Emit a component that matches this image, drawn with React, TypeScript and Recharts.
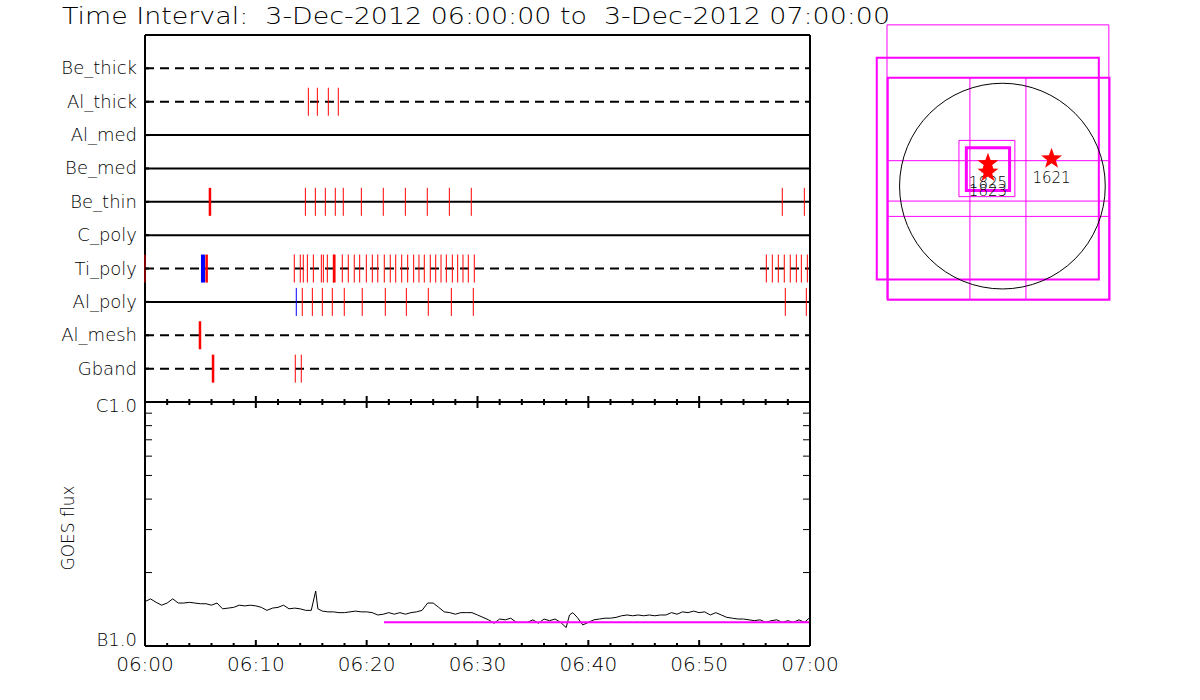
import React from "react";
import {
  ScatterChart,
  Scatter,
  ComposedChart,
  Line,
  XAxis,
  YAxis,
  ReferenceLine,
  ReferenceArea,
  ReferenceDot,
} from "recharts";

const FONT = "'DejaVu Sans', sans-serif";
const RED = "#ff0000";
const BLUE = "#0000ff";
const MAGENTA = "#ff00ff";
const AX = { stroke: "#000", strokeWidth: 2 };

// ---- shared time axis (minutes after 06:00) ----
const timeTicks = [0, 2, 4, 6, 8, 10, 12, 14, 16, 18, 20, 22, 24, 26, 28, 30, 32, 34, 36, 38, 40, 42, 44, 46, 48, 50, 52, 54, 56, 58, 60];
const timeLabels: Record<number, string> = { 0: "06:00", 10: "06:10", 20: "06:20", 30: "06:30", 40: "06:40", 50: "06:50", 60: "07:00" };

// ---- filter rows (top to bottom) ----
const rowNames = ["Be_thick", "Al_thick", "Al_med", "Be_med", "Be_thin", "C_poly", "Ti_poly", "Al_poly", "Al_mesh", "Gband"];
const rowDashed = [true, true, false, false, false, false, true, false, true, true];
const rowTicks = [1, 2, 3, 4, 5, 6, 7, 8, 9, 10];

// ---- filter events, minutes after 06:00 ----
const alThickRed = [14.74, 15.55, 16.54, 17.44];
const beThinRedBold = [5.86];
const beThinRed = [14.47, 15.37, 16.27, 17.17, 17.89, 19.52, 21.5, 23.49, 25.47, 27.46, 29.44, 57.5, 59.49];
const tiPolyBlueBold = [5.23];
const tiPolyRedBold = [5.56, 17.08];
const tiPolyRed = [
  0, 13.47, 14.01, 14.28, 14.65, 15.19, 15.91, 16.09, 16.45, 16.99, 17.8, 18.34, 18.88, 19.37, 19.97,
  20.51, 21.0, 21.59, 22.13, 22.62, 23.16, 23.7, 24.24, 24.72, 25.2, 25.74, 26.23, 26.71, 27.19, 27.73,
  28.21, 28.69, 29.17, 29.71, 56.06, 56.6, 57.14, 57.68, 58.22, 58.77, 59.22, 59.76,
];
const alPolyBlue = [13.65];
const alPolyRed = [14.19, 15.1, 16.0, 16.9, 17.98, 19.6, 21.68, 23.58, 25.56, 27.64, 29.62, 57.77, 59.67];
const alMeshRedBold = [4.96];
const gbandRedBold = [6.14];
const gbandRed = [13.56, 14.1];

// ---- GOES flux, units of 1e-7 W/m^2 ----
const goesTimes = [
  0, 0.5, 1, 1.5, 2, 2.5, 3, 3.5, 4, 4.5, 5, 5.5, 6, 6.5, 7, 7.5, 8, 8.5, 9, 9.5,
  10, 10.5, 11, 11.5, 12, 12.5, 13, 13.5, 14, 14.5, 15, 15.4, 15.6, 16, 16.5, 17, 17.5, 18, 18.5, 19, 19.5,
  20, 20.5, 21, 21.5, 22, 22.5, 23, 23.5, 24, 24.5, 25, 25.5, 26, 26.5, 27, 27.5, 28, 28.5, 29, 29.5,
  30, 30.5, 31, 31.5, 32, 32.5, 33, 33.5, 34, 34.5, 35, 35.5, 36, 36.5, 37, 37.5, 38, 38.3, 38.6, 39, 39.5,
  40, 40.5, 41, 41.5, 42, 42.5, 43, 43.5, 44, 44.5, 45, 45.5, 46, 46.5, 47, 47.5, 48, 48.5, 49, 49.5,
  50, 50.5, 51, 51.5, 52, 52.5, 53, 53.5, 54, 54.5, 55, 55.5, 56, 56.5, 57, 57.5, 58, 58.5, 59, 59.5, 60,
];
const goesFlux = [
  1.52, 1.56, 1.51, 1.47, 1.5, 1.56, 1.5, 1.5, 1.51, 1.5, 1.49, 1.49, 1.47, 1.5, 1.42, 1.43, 1.44, 1.47, 1.46, 1.47,
  1.46, 1.44, 1.4, 1.43, 1.44, 1.47, 1.42, 1.43, 1.42, 1.4, 1.4, 1.68, 1.42, 1.39, 1.38, 1.38, 1.37, 1.37, 1.38, 1.39, 1.38,
  1.38, 1.37, 1.34, 1.35, 1.37, 1.35, 1.37, 1.35, 1.37, 1.38, 1.4, 1.5, 1.5, 1.44, 1.38, 1.37, 1.35, 1.37, 1.37, 1.37,
  1.34, 1.31, 1.28, 1.24, 1.29, 1.28, 1.3, 1.25, 1.25, 1.25, 1.28, 1.24, 1.29, 1.27, 1.29, 1.25, 1.19, 1.34, 1.37, 1.31, 1.22,
  1.25, 1.28, 1.29, 1.3, 1.3, 1.31, 1.33, 1.34, 1.33, 1.34, 1.33, 1.34, 1.33, 1.34, 1.34, 1.37, 1.35, 1.38, 1.37, 1.39,
  1.37, 1.38, 1.34, 1.37, 1.34, 1.31, 1.3, 1.29, 1.29, 1.28, 1.27, 1.28, 1.25, 1.27, 1.28, 1.25, 1.27, 1.25, 1.28, 1.25, 1.31,
];
const bgTimes = [21.56, 60];
const bgFlux = [1.25, 1.25];
const fluxTicks = [1, 2, 3, 4, 5, 6, 7, 8, 9, 10];
const fluxLabels: Record<number, string> = { 1: "B1.0", 10: "C1.0" };

// ---- solar map, arcsec ----
const SUN_R = 975;
const mapX: [number, number] = [-1350, 1200];
const mapY: [number, number] = [-1250, 1650];
const MAP_W = 269;
const MAP_H = 306;
// x1, x2, y1, y2, stroke width
const fovBoxes: [number, number, number, number, number][] = [
  [-1094, 1009, -1073, 1528, 1],
  [-1191, 914, -886, 1216, 2],
  [-1087, 1015, -1076, 1027, 2],
  [-412, 118, -100, 433, 1],
  [-342, 68, -41, 364, 3],
];
const gridX = [-308, 223];
const gridY = [241, -142, -287];
const regionNums = ["1825", "1823", "1621"];
const regionX = [-137, -137, 466];
const regionY = [212, 133, 259];

type Ev = { t: number; row: number; color: string; w: number };
const mk = (times: number[], row: number, color: string, w: number): Ev[] =>
  times.map((t) => ({ t, row, color, w }));

const events: Ev[] = [
  ...mk(alThickRed, 2, RED, 1),
  ...mk(beThinRed, 5, RED, 1),
  ...mk(beThinRedBold, 5, RED, 2.5),
  ...mk(tiPolyRed, 7, RED, 1),
  ...mk(tiPolyRedBold, 7, RED, 2.5),
  ...mk(tiPolyBlueBold, 7, BLUE, 4),
  ...mk(alPolyRed, 8, RED, 1),
  ...mk(alPolyBlue, 8, BLUE, 1),
  ...mk(alMeshRedBold, 9, RED, 2.5),
  ...mk(gbandRed, 10, RED, 1),
  ...mk(gbandRedBold, 10, RED, 2.5),
];

const goes = goesTimes.map((t, i) => ({ t, flux: goesFlux[i] }));
const bg = bgTimes.map((t, i) => ({ t, flux: bgFlux[i] }));
const regions = regionNums.map((n, i) => ({ x: regionX[i], y: regionY[i], n }));

// ---- tick renderers ----
const timeTick = (dir: number, labels: boolean) => (p: any) => {
  const v = p.payload.value;
  const major = v % 10 === 0;
  return (
    <g>
      <line x1={p.x} x2={p.x} y1={p.y} y2={p.y + dir * (major ? 6 : 3)} stroke="#000" strokeWidth={2} />
      {labels && major && (
        <text x={p.x} y={p.y + 25} textAnchor="middle" fontSize={20} fontFamily={FONT} fontWeight={200} fill="#000">
          {timeLabels[v]}
        </text>
      )}
    </g>
  );
};

const RowTick = (p: any) => (
  <g>
    <line x1={p.x} x2={p.x + 4} y1={p.y} y2={p.y} stroke="#000" strokeWidth={2} />
    <text x={p.x - 8} y={p.y + 6} textAnchor="end" fontSize={18} fontFamily={FONT} fontWeight={200} fill="#000">
      {rowNames[p.payload.value - 1]}
    </text>
  </g>
);

const fluxTick = (dir: number, labels: boolean) => (p: any) => {
  const v = p.payload.value;
  const edge = v === 1 || v === 10;
  return (
    <g>
      {!edge && <line x1={p.x} x2={p.x + dir * 7} y1={p.y} y2={p.y} stroke="#000" strokeWidth={1} />}
      {labels && edge && (
        <text x={p.x - 8} y={p.y + (v === 10 ? 10 : 0)} textAnchor="end" fontSize={18} fontFamily={FONT} fontWeight={200} fill="#000">
          {fluxLabels[v]}
        </text>
      )}
    </g>
  );
};

const EventMark = (p: any) => (
  <line x1={p.cx} x2={p.cx} y1={p.cy - 14} y2={p.cy + 14} stroke={p.payload.color} strokeWidth={p.payload.w} />
);

const StarMark = (p: any) => {
  const pts: string[] = [];
  for (let k = 0; k < 10; k++) {
    const r = k % 2 === 0 ? 11 : 4.5;
    const a = ((-90 + k * 36) * Math.PI) / 180;
    pts.push(`${p.cx + r * Math.cos(a)},${p.cy + r * Math.sin(a)}`);
  }
  return (
    <g>
      <text x={p.cx} y={p.cy + 24} textAnchor="middle" fontSize={15} fontFamily={FONT} fontWeight={200} fill="#000">
        {p.payload.n}
      </text>
      <polygon points={pts.join(" ")} fill={RED} />
    </g>
  );
};

const sunRpx = (SUN_R * MAP_W) / (mapX[1] - mapX[0]);

export default function App() {
  return (
    <div style={{ position: "absolute", left: 0, top: 0, width: 1200, height: 700, background: "#fff" }}>
      {/* Title and y label */}
      <svg width={1200} height={700} style={{ position: "absolute", left: 0, top: 0 }}>
        <text x={62} y={24} fontSize={23} fontFamily={FONT} fontWeight={200} textLength={828} lengthAdjust="spacingAndGlyphs" style={{ whiteSpace: "pre" }}>
          {"Time Interval:  3-Dec-2012 06:00:00 to  3-Dec-2012 07:00:00"}
        </text>
        <text x={74} y={528} fontSize={17} fontFamily={FONT} fontWeight={200} textAnchor="middle" transform="rotate(-90 74 528)">
          GOES flux
        </text>
      </svg>

      {/* Filter events panel: plot area 145..810 x 35..402 */}
      <div style={{ position: "absolute", left: 0, top: 0 }}>
        <ScatterChart width={850} height={410} margin={{ top: 34, right: 39, bottom: 7, left: 0 }}>
          <XAxis xAxisId="b" type="number" dataKey="t" domain={[0, 60]} ticks={timeTicks} interval={0} height={1} tickSize={0} tickMargin={0} axisLine={AX} tick={timeTick(-1, false)} />
          <XAxis xAxisId="t" orientation="top" type="number" dataKey="t" domain={[0, 60]} ticks={timeTicks} interval={0} height={1} tickSize={0} tickMargin={0} axisLine={AX} tick={timeTick(1, false)} />
          <YAxis yAxisId="l" type="number" dataKey="row" domain={[0, 11]} reversed ticks={rowTicks} interval={0} width={145} tickSize={0} tickMargin={0} axisLine={AX} tick={RowTick} />
          <YAxis yAxisId="r" orientation="right" type="number" dataKey="row" domain={[0, 11]} reversed ticks={rowTicks} width={1} tickSize={0} tickMargin={0} tick={() => <g />} axisLine={AX} />
          {rowNames.map((n, i) => (
            <ReferenceLine key={n} xAxisId="b" yAxisId="l" y={i + 1} stroke="#000" strokeWidth={2} strokeDasharray={rowDashed[i] ? "9 6" : undefined} />
          ))}
          <Scatter xAxisId="b" yAxisId="l" data={events} shape={EventMark} isAnimationActive={false} />
        </ScatterChart>
      </div>

      {/* GOES panel: plot area 145..810 x 402..646 */}
      <div style={{ position: "absolute", left: 0, top: 380 }}>
        <ComposedChart width={850} height={310} margin={{ top: 21, right: 39, bottom: 0, left: 0 }}>
          <XAxis xAxisId="b" type="number" dataKey="t" domain={[0, 60]} ticks={timeTicks} interval={0} height={44} tickSize={0} tickMargin={0} axisLine={AX} tick={timeTick(-1, true)} />
          <XAxis xAxisId="t" orientation="top" type="number" dataKey="t" domain={[0, 60]} ticks={timeTicks} interval={0} height={1} tickSize={0} tickMargin={0} axisLine={AX} tick={timeTick(1, false)} />
          <YAxis yAxisId="l" type="number" scale="log" domain={[1, 10]} ticks={fluxTicks} interval={0} width={145} tickSize={0} tickMargin={0} axisLine={AX} tick={fluxTick(1, true)} allowDataOverflow />
          <YAxis yAxisId="r" orientation="right" type="number" scale="log" domain={[1, 10]} ticks={fluxTicks} interval={0} width={1} tickSize={0} tickMargin={0} axisLine={AX} tick={fluxTick(-1, false)} allowDataOverflow />
          <Line xAxisId="b" yAxisId="l" data={goes} dataKey="flux" stroke="#000" strokeWidth={1} dot={false} isAnimationActive={false} />
          <Line xAxisId="t" yAxisId="r" data={bg} dataKey="flux" stroke={MAGENTA} strokeWidth={2} dot={false} isAnimationActive={false} />
        </ComposedChart>
      </div>

      {/* Solar disk map */}
      <div style={{ position: "absolute", left: 860, top: 12 }}>
        <ScatterChart width={MAP_W} height={MAP_H} margin={{ top: 0, right: 0, bottom: 0, left: 0 }}>
          <XAxis type="number" dataKey="x" domain={mapX} hide />
          <YAxis type="number" dataKey="y" domain={mapY} hide width={0} />
          <ReferenceDot x={0} y={0} r={sunRpx} fill="none" stroke="#000" strokeWidth={1} />
          {gridX.map((x) => (
            <ReferenceLine key={"gx" + x} segment={[{ x, y: -1076 }, { x, y: 1027 }]} stroke={MAGENTA} strokeWidth={1} />
          ))}
          {gridY.map((y) => (
            <ReferenceLine key={"gy" + y} segment={[{ x: -1087, y }, { x: 1015, y }]} stroke={MAGENTA} strokeWidth={1} />
          ))}
          {fovBoxes.map((b, i) => (
            <ReferenceArea key={i} x1={b[0]} x2={b[1]} y1={b[2]} y2={b[3]} fill="none" fillOpacity={0} stroke={MAGENTA} strokeWidth={b[4]} />
          ))}
          <Scatter data={regions} shape={StarMark} isAnimationActive={false} />
        </ScatterChart>
      </div>
    </div>
  );
}
